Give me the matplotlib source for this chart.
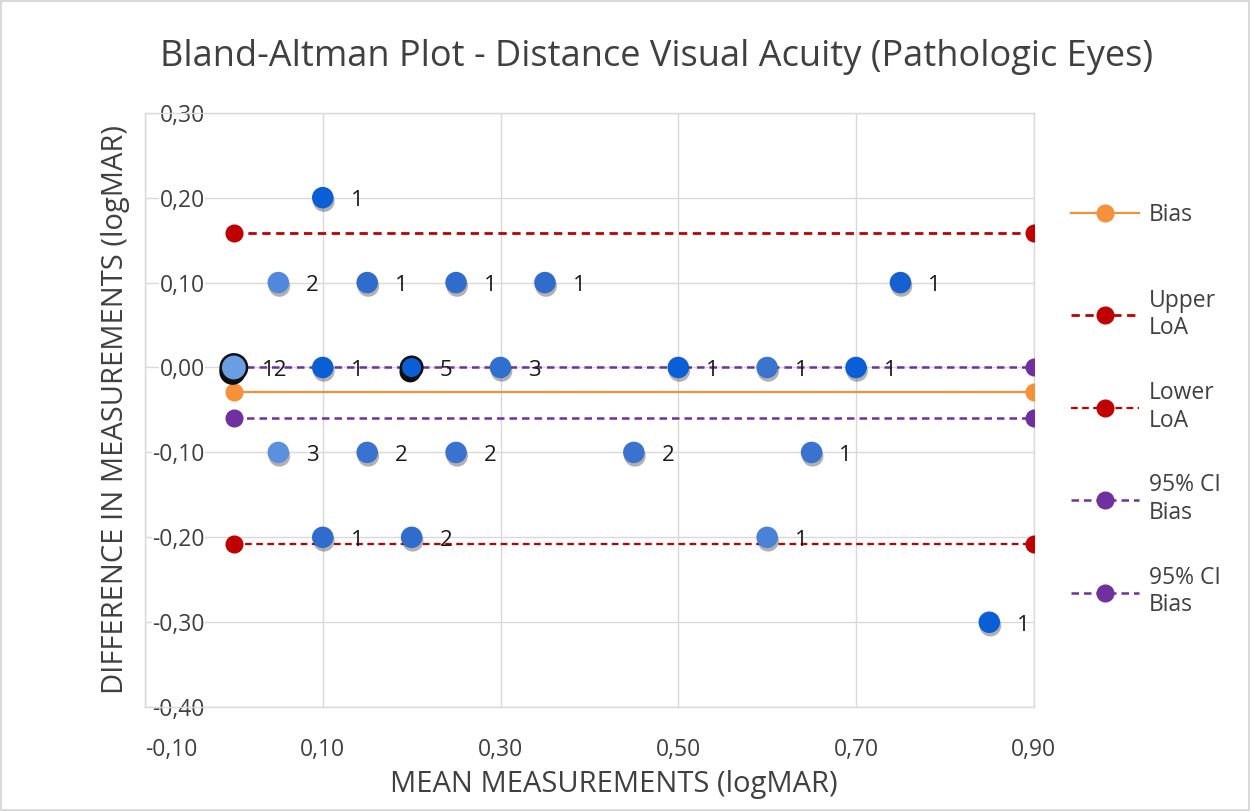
import matplotlib.pyplot as plt
import matplotlib.patheffects as pe
import numpy as np

# mean / difference of the two measurements and how many eyes sit on each point
mean_vals = [0.00, 0.10, 0.20, 0.30, 0.50, 0.60, 0.70,
             0.10,
             0.05, 0.15, 0.25, 0.35, 0.75,
             0.05, 0.15, 0.25, 0.45, 0.65,
             0.10, 0.20, 0.60,
             0.85]
diff_vals = [0.00, 0.00, 0.00, 0.00, 0.00, 0.00, 0.00,
             0.20,
             0.10, 0.10, 0.10, 0.10, 0.10,
             -0.10, -0.10, -0.10, -0.10, -0.10,
             -0.20, -0.20, -0.20,
             -0.30]
counts = [12, 1, 5, 3, 1, 1, 1,
          1,
          2, 1, 1, 1, 1,
          3, 2, 2, 2, 1,
          1, 2, 1,
          1]

# reference lines (x range, y level)
line_x = [0.0, 0.9]
bias = -0.029
upper_loa = 0.158
lower_loa = -0.208
ci_upper = 0.0
ci_lower = -0.059

xticks = [-0.1, 0.1, 0.3, 0.5, 0.7, 0.9]
yticks = [0.3, 0.2, 0.1, 0.0, -0.1, -0.2, -0.3, -0.4]

# point colours (style only)
point_colors = ['#6a9ee3', '#0a5fd6', '#0a5fd6', '#2f6fd0', '#0a5fd6', '#3a74cf', '#0a5fd6',
                '#0a5fd6',
                '#4f88dc', '#2f6ccc', '#2f6ccc', '#2f6ccc', '#1660d0',
                '#5b90de', '#3a72cf', '#3a72cf', '#3a72cf', '#3a72cf',
                '#2f6ccc', '#2f6ccc', '#4a82d8',
                '#0a5fd6']

plt.rcParams['font.family'] = ['Open Sans', 'DejaVu Sans']

fig = plt.figure(figsize=(12.5, 8.11), dpi=100)
fig.patch.set_edgecolor('#d9d9d9')
fig.patch.set_linewidth(1.5)
ax = fig.add_axes([0.116, 0.128, 0.711, 0.733])

grid_c = '#d9d9d9'
ax.set_xlim(-0.1, 0.9)
ax.set_ylim(-0.4, 0.3)
ax.set_xticks(xticks)
ax.set_yticks(yticks)
ax.set_xticklabels([f'{v:.2f}'.replace('.', ',') for v in xticks])
ax.set_yticklabels([f'{v:.2f}'.replace('.', ',') for v in yticks])
ax.grid(True, color=grid_c, linewidth=1)
ax.set_axisbelow(True)
for s in ax.spines.values():
    s.set_color(grid_c)
    s.set_linewidth(1)
ax.tick_params(length=0, labelsize=16.5, labelcolor='#404040')
ax.tick_params(axis='y', pad=-43)
ax.tick_params(axis='x', pad=22)
for lab in ax.get_yticklabels():
    lab.set_bbox(dict(facecolor='white', edgecolor='none', pad=0.5))
ax.get_xticklabels()[0].set_horizontalalignment('left')

# reference lines
h_bias, = ax.plot(line_x, [bias, bias], color='#f4913a', lw=1.6, marker='o', ms=12, label='Bias', zorder=3)
h_up, = ax.plot(line_x, [upper_loa, upper_loa], color='#c00000', lw=2, ls=(0, (3, 2)), marker='o', ms=12,
                label='Upper\nLoA', zorder=3)
h_lo, = ax.plot(line_x, [lower_loa, lower_loa], color='#c00000', lw=1.6, ls=(0, (3, 2)), marker='o', ms=12,
                label='Lower\nLoA', zorder=3)
h_ci1, = ax.plot(line_x, [ci_upper, ci_upper], color='#7030a0', lw=1.8, ls=(0, (3, 2)), marker='o', ms=12,
                 label='95% CI\nBias', zorder=3)
h_ci2, = ax.plot(line_x, [ci_lower, ci_lower], color='#7030a0', lw=1.8, ls=(0, (3, 2)), marker='o', ms=12,
                 label='95% CI\nBias', zorder=3)

# data points with soft shadow
counts_arr = np.array(counts)
sizes = np.where(counts_arr >= 10, 360, 240)
normal = counts_arr < 5
big = ~normal
mx = np.array(mean_vals)
dy = np.array(diff_vals)
cols = np.array(point_colors)
sc1 = ax.scatter(mx[normal], dy[normal], s=sizes[normal], c=cols[normal], linewidths=0, zorder=4)
sc1.set_path_effects([pe.SimplePatchShadow(offset=(0.8, -2.5), shadow_rgbFace='#222222', alpha=0.35), pe.Normal()])
sc2 = ax.scatter(mx[big], dy[big], s=sizes[big], c=cols[big], edgecolors='#111111', linewidths=1.8, zorder=4)
sc2.set_path_effects([pe.SimplePatchShadow(offset=(-1, -3), shadow_rgbFace='k', alpha=0.95), pe.Normal()])

for x, y, n in zip(mean_vals, diff_vals, counts):
    ax.annotate(str(n), (x, y), xytext=(20, -2), textcoords='offset points',
                ha='left', va='center', fontsize=16, color='#1a1a1a', zorder=5)

ax.set_xlabel('MEAN MEASUREMENTS (logMAR)', fontsize=21, color='#404040', labelpad=6)
ax.xaxis.label.set_x(0.528)
ax.set_ylabel('DIFFERENCE IN MEASUREMENTS (logMAR)', fontsize=21, color='#404040', labelpad=11)
fig.suptitle('Bland-Altman Plot - Distance Visual Acuity (Pathologic Eyes)', x=0.525, y=0.952,
             fontsize=26, color='#404040')

leg_kw = dict(frameon=False, fontsize=16.5, handlelength=3.0, handletextpad=0.4,
              labelcolor='#404040', bbox_transform=fig.transFigure, loc='center left')
leg1 = ax.legend(handles=[h_bias], bbox_to_anchor=(0.84, 1 - 215 / 811), **leg_kw)
ax.add_artist(leg1)
ax.legend(handles=[h_up, h_lo, h_ci1, h_ci2], bbox_to_anchor=(0.84, 1 - 453 / 811),
          labelspacing=1.78, **leg_kw)

fig.savefig('out.png', dpi=100)
